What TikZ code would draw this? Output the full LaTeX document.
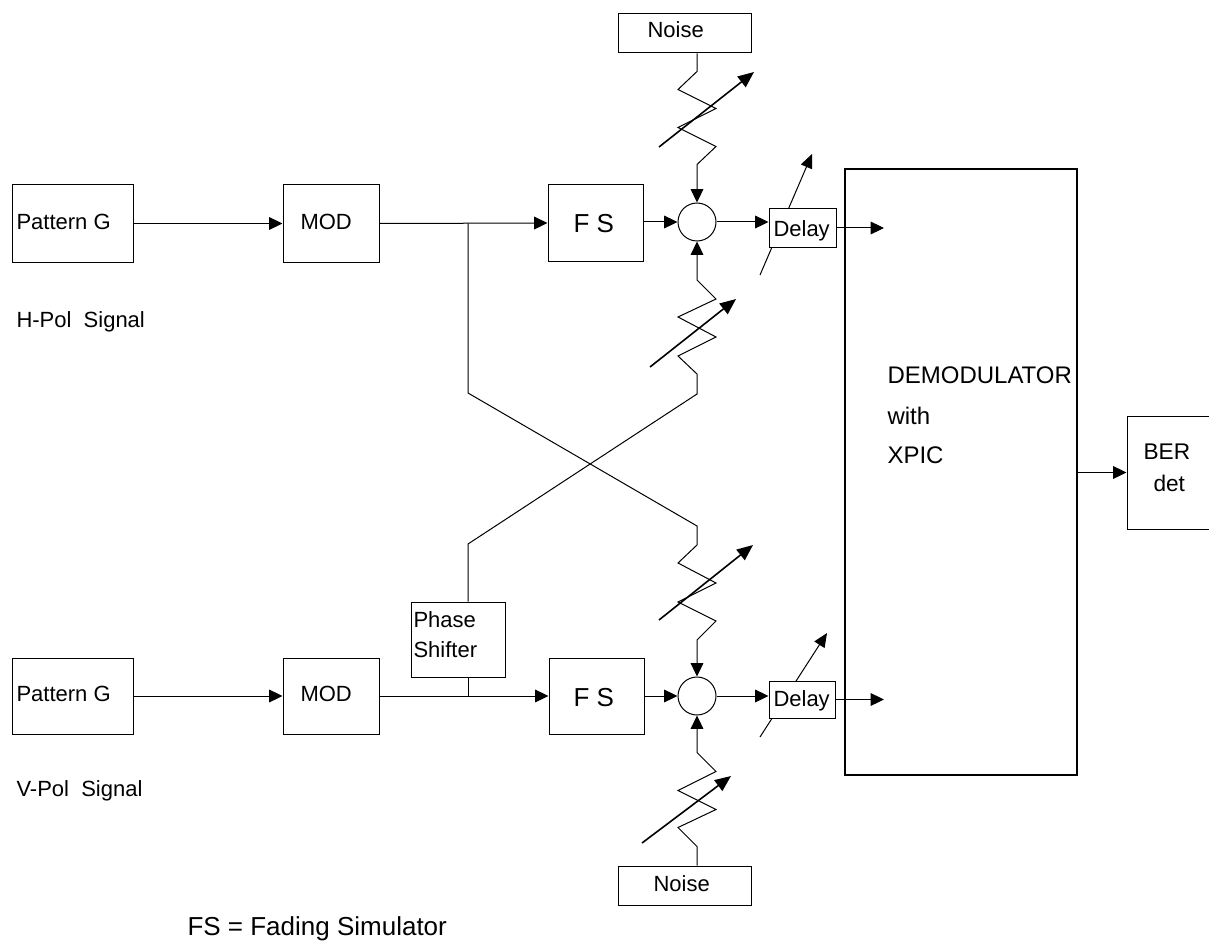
\documentclass[tikz,border=0pt]{standalone}
\usepackage{fontspec}
\setmainfont{Liberation Sans}
\usetikzlibrary{arrows.meta}
\begin{document}
\begin{tikzpicture}[x=0.75pt,y=-0.75pt,line width=0.75pt,
  box/.style={draw,rectangle,fill=white,inner sep=0pt,line width=0.75pt},
  sz/.style 2 args={minimum width=#1*0.75pt,minimum height=#2*0.75pt},
  sumpt/.style={draw,circle,fill=white,inner sep=0pt,minimum size=38*0.75pt},
  arr/.style={-{Triangle[length=10pt,width=9.5pt]}},
  tune/.style={line width=1.2pt,-{Triangle[length=12pt,width=10pt]}},
  dtune/.style={line width=0.75pt,-{Triangle[length=10.5pt,width=9pt]}},
  lbl/.style={anchor=base west,inner sep=0pt,font=\fontsize{16.5}{19}\selectfont},
  lblbig/.style={anchor=base west,inner sep=0pt,font=\fontsize{19.5}{22}\selectfont},
  lbldem/.style={anchor=base west,inner sep=0pt,font=\fontsize{18}{21}\selectfont},
  lblber/.style={anchor=base west,inner sep=0pt,font=\fontsize{17}{20}\selectfont}]
\useasboundingbox (0,0) rectangle (1209,941);

% ---------- boxes ----------
\node[box,sz={121}{77}] (pg1) at (72.5,223.5) {};
\node[box,sz={96}{77}]  (mod1) at (331,223.5) {};
\node[box,sz={95}{76}]  (fs1) at (595.5,223) {};
\node[box,sz={133}{39}] (nz1) at (684.5,33.5) {};
\node[sumpt] (c1) at (697,222) {};

\node[box,sz={121}{76}] (pg2) at (72.5,696) {};
\node[box,sz={96}{76}]  (mod2) at (331,696) {};
\node[box,sz={95}{76}]  (fs2) at (596.5,696) {};
\node[box,sz={94}{75}]  (ps) at (458,639.5) {};
\node[box,sz={133}{39}] (nz2) at (684.5,885.5) {};
\node[sumpt] (c2) at (697,696) {};

\node[draw,rectangle,inner sep=0pt,line width=1.5pt,sz={232}{606}] (dem) at (961,472) {};
\node[box,sz={86}{113}] (ber) at (1170,472.5) {};

% ---------- delay tuning arrows (behind the delay boxes) ----------
\draw[dtune] (760,275) -- (812,154);
\draw[dtune] (760,737) -- (827,633);
\node[box,sz={67}{39}] (d1) at (802.5,228) {};
\node[box,sz={66}{37}] (d2) at (802,699.5) {};

% ---------- texts ----------
\node[lbl] (tpg1) at (16,229) {Pattern G};
\node[lbl] (tmod1) at (300,229) {MOD};
\node[lbl] (thpol) at (16,327) {H-Pol\ \ Signal};
\node[lbl] (tpg2) at (16,701) {Pattern G};
\node[lbl] (tmod2) at (300,701) {MOD};
\node[lbl] (tvpol) at (16,796) {V-Pol\ \ Signal};
\node[lblbig] (tfs) at (187,935) {FS = Fading Simulator};
\node[lbl] (tps1) at (413,627) {Phase};
\node[lbl] (tps2) at (413,657) {Shifter};
\node[lblbig] (tfs1) at (573,233) {F S};
\node[lblbig] (tfs2) at (573,706) {F S};
\node[lbl] (td1) at (773,237) {Delay};
\node[lbl] (td2) at (773,706) {Delay};
\node[lbl] (tnz1) at (647,38) {Noise};
\node[lbl] (tnz2) at (653,891) {Noise};
\node[lbldem] (tdem1) at (887,383) {DEMODULATOR};
\node[lbldem] (tdem2) at (887,424) {with};
\node[lbldem] (tdem3) at (887,463) {XPIC};
\node[lblber] (tber1) at (1143,459) {BER};
\node[lblber] (tber2) at (1153,491) {det};

% ---------- signal path connectors ----------
\coordinate (b1) at (468,223.5);
\coordinate (b2) at (468,696);
\coordinate (in1) at (884,228);
\coordinate (in2) at (884,699.5);

\draw[arr] (pg1.east) -- (mod1.west);
\draw[arr] (mod1.east) -- (fs1.west);
\draw[arr] (fs1.east |- c1.west) -- (c1.west);
\draw[arr] (c1.east) -- (c1.east -| d1.west);
\draw[arr] (d1.east) -- (in1);

\draw[arr] (pg2.east) -- (mod2.west);
\draw[arr] (mod2.east) -- (fs2.west);
\draw[arr] (fs2.east) -- (c2.west);
\draw[arr] (c2.east) -- (c2.east -| d2.west);
\draw[arr] (d2.east) -- (in2);

\draw[arr] (dem.east |- ber.west) -- (ber.west);

% ---------- noise into the upper summing point ----------
\draw[arr] (nz1.south -| c1) -- ++(0,18) -- ++(-19,18) -- ++(38,19) -- ++(-38,19)
  -- ++(38,19) -- ++(-19,18) -- (c1.north);
\draw[tune] (659,147) -- (754,72);

% ---------- noise into the lower summing point ----------
\draw[arr] (nz2.north -| c2) -- ++(0,-19) -- ++(-19,-19) -- ++(38,-18) -- ++(-38,-19)
  -- ++(38,-19) -- ++(-19,-19) -- (c2.south);
\draw[tune] (642,843) -- (731,776);

% ---------- cross-polar coupling: H into lower summing point ----------
\draw[arr] (b1) -- (468,393) -- (697,526) -- (697,545) -- ++(-19,18) -- ++(38,20)
  -- ++(-38,19) -- ++(38,19) -- ++(-19,19) -- (c2.north);
\draw[tune] (659,620) -- (753,545);

% ---------- cross-polar coupling: V via phase shifter into upper summing point ----------
\draw (b2) -- (ps.south -| b2);
\draw[arr] (ps.north -| b2) -- (468,544) -- (697,394) -- (697,374) -- ++(-19,-18) -- ++(38,-19)
  -- ++(-38,-20) -- ++(38,-18) -- ++(-19,-19) -- (c1.south);
\draw[tune] (650,367) -- (736,299);
\end{tikzpicture}
\end{document}
